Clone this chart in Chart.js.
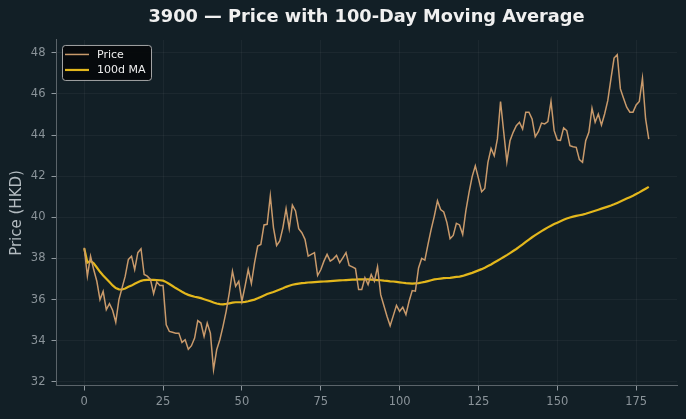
<!DOCTYPE html>
<html>
<head>
<meta charset="utf-8">
<script src="https://cdn.jsdelivr.net/npm/chart.js@4"></script>
<style>
  html, body { margin: 0; padding: 0; background: #121f26; }
  #wrap { width: 686px; height: 419px; }
</style>
</head>
<body>
<div id="wrap"><canvas id="myChart" width="686" height="419"></canvas></div>
<script>
// price, one value per trading day (day 0..179)
var price = [
  38.52, 37.14, 38.11, 37.46, 36.89, 36.00, 36.40, 35.51, 35.80, 35.48,
  34.90, 36.00, 36.57, 37.14, 37.95, 38.11, 37.46, 38.28, 38.47, 37.22,
  37.14, 36.98, 36.29, 36.85, 36.68, 36.68, 34.78, 34.45, 34.41, 34.37,
  34.37, 33.92, 34.05, 33.59, 33.76, 34.13, 34.98, 34.86, 34.21, 34.86,
  34.37, 32.60, 33.56, 34.05, 34.70, 35.43, 36.33, 37.38, 36.65, 36.89,
  35.92, 36.65, 37.46, 36.78, 37.79, 38.60, 38.68, 39.63, 39.66, 41.04,
  39.50, 38.63, 38.85, 39.50, 40.42, 39.45, 40.59, 40.31, 39.45, 39.25,
  38.93, 38.11, 38.20, 38.28, 37.17, 37.45, 37.87, 38.20, 37.87, 37.98,
  38.15, 37.79, 38.03, 38.28, 37.66, 37.59, 37.51, 36.49, 36.49, 37.06,
  36.73, 37.22, 36.89, 37.59, 36.24, 35.71, 35.19, 34.73, 35.22, 35.72,
  35.43, 35.63, 35.27, 35.92, 36.44, 36.41, 37.54, 38.00, 37.92, 38.68,
  39.41, 40.06, 40.80, 40.38, 40.26, 39.74, 38.96, 39.12, 39.71, 39.63,
  39.17, 40.31, 41.20, 41.98, 42.50, 41.89, 41.24, 41.40, 42.67, 43.35,
  42.99, 43.81, 45.63, 44.16, 42.70, 43.72, 44.13, 44.45, 44.62, 44.29,
  45.11, 45.11, 44.78, 43.92, 44.16, 44.58, 44.54, 44.65, 45.63, 44.21,
  43.76, 43.74, 44.35, 44.21, 43.48, 43.43, 43.40, 42.80, 42.67, 43.72,
  44.13, 45.30, 44.62, 45.02, 44.49, 45.02, 45.67, 46.73, 47.74, 47.90,
  46.24, 45.79, 45.35, 45.11, 45.11, 45.46, 45.63, 46.76, 44.78, 43.80
];

// 100-day moving average, also
var ma100 = [
  38.50, 37.80, 37.87, 37.76, 37.56, 37.35, 37.17, 37.01, 36.85, 36.69,
  36.56, 36.50, 36.49, 36.54, 36.62, 36.68, 36.77, 36.84, 36.91, 36.95,
  36.96, 36.96, 36.96, 36.95, 36.94, 36.92, 36.85, 36.76, 36.66, 36.56,
  36.47, 36.38, 36.30, 36.23, 36.18, 36.14, 36.11, 36.07, 36.02, 35.97,
  35.92, 35.86, 35.81, 35.78, 35.77, 35.79, 35.82, 35.85, 35.87, 35.87,
  35.87, 35.89, 35.92, 35.96, 36.00, 36.06, 36.13, 36.20, 36.27, 36.32,
  36.37, 36.43, 36.49, 36.55, 36.62, 36.67, 36.72, 36.75, 36.78, 36.80,
  36.81, 36.83, 36.84, 36.85, 36.86, 36.87, 36.88, 36.89, 36.90, 36.91,
  36.92, 36.93, 36.94, 36.95, 36.96, 36.97, 36.97, 36.98, 36.98, 36.98,
  36.98, 36.97, 36.96, 36.95, 36.94, 36.92, 36.91, 36.89, 36.88, 36.86,
  36.84, 36.82, 36.80, 36.79, 36.78, 36.79, 36.80, 36.83, 36.86, 36.90,
  36.94, 36.98, 37.00, 37.02, 37.04, 37.05, 37.06, 37.08, 37.10, 37.12,
  37.15, 37.20, 37.25, 37.30, 37.36, 37.42, 37.48, 37.55, 37.63, 37.71,
  37.80, 37.89, 37.98, 38.07, 38.16, 38.26, 38.36, 38.46, 38.57, 38.68,
  38.80, 38.92, 39.03, 39.13, 39.23, 39.33, 39.42, 39.51, 39.59, 39.67,
  39.74, 39.81, 39.88, 39.94, 39.99, 40.03, 40.07, 40.10, 40.13, 40.17,
  40.22, 40.27, 40.32, 40.37, 40.42, 40.47, 40.52, 40.57, 40.63, 40.70,
  40.77, 40.84, 40.91, 40.98, 41.05, 41.13, 41.21, 41.30, 41.39, 41.48
];

var days = price.map(function (v, i) { return i; });
var xTicks = [0, 25, 50, 75, 100, 125, 150, 175];
var yTicks = [32, 34, 36, 38, 40, 42, 44, 46, 48];

var bg = '#121f26';
var priceColor = '#c99a6b';
var maColor = '#e3b71c';

function pts(vals) {
  return vals.map(function (v, i) { return { x: days[i], y: v }; });
}

// plain background + matplotlib-like legend box in the top-left corner
var decor = {
  id: 'decor',
  beforeDraw: function (chart) {
    var c = chart.ctx;
    c.save();
    c.fillStyle = bg;
    c.fillRect(0, 0, chart.width, chart.height);
    c.restore();
  },
  afterDatasetsDraw: function (chart) {
    var c = chart.ctx, a = chart.chartArea;
    var x = a.left + 6, y = a.top + 5, w = 89, h = 35;
    c.save();
    c.beginPath();
    c.roundRect(x + 0.5, y + 0.5, w, h, 3);
    c.fillStyle = 'rgba(5,8,10,0.92)';
    c.fill();
    c.strokeStyle = 'rgba(200,200,200,0.8)';
    c.lineWidth = 1;
    c.stroke();
    c.font = '11px "DejaVu Sans"';
    c.textBaseline = 'middle';
    chart.data.datasets.forEach(function (ds, k) {
      var ly = y + 9.5 + k * 15.5;
      c.strokeStyle = ds.borderColor;
      c.lineWidth = ds.borderWidth;
      c.beginPath();
      c.moveTo(x + 3, ly);
      c.lineTo(x + 27, ly);
      c.stroke();
      c.fillStyle = '#eeeeee';
      c.fillText(ds.label, x + 35, ly + 0.5);
    });
    c.restore();
  }
};

var ctx = document.getElementById('myChart').getContext('2d');
var myChart = new Chart(ctx, {
  type: 'line',
  data: {
    datasets: [{
      label: 'Price',
      data: pts(price),
      borderColor: priceColor,
      borderWidth: 1.5,
      pointRadius: 0,
      tension: 0,
      fill: false
    }, {
      label: '100d MA',
      data: pts(ma100),
      borderColor: maColor,
      borderWidth: 2.2,
      pointRadius: 0,
      tension: 0,
      fill: false
    }]
  },
  options: {
    responsive: false,
    animation: false,
    layout: { padding: { left: 0, right: 9, top: 0, bottom: 0 } },
    plugins: {
      legend: { display: false },
      tooltip: { enabled: false },
      title: {
        display: true,
        fullSize: false,
        text: '3900 \u2014 Price with 100-Day Moving Average',
        color: '#f0f0f0',
        font: { family: '"DejaVu Sans"', size: 17.8, weight: 'bold', lineHeight: 1.2 },
        padding: { top: 7, bottom: 11.6 }
      }
    },
    scales: {
      x: {
        type: 'linear',
        min: -8.95,
        max: 187.95,
        afterFit: function (s) { s.height = 33; },
        afterBuildTicks: function (s) { s.ticks = xTicks.map(function (v) { return { value: v }; }); },
        grid: { color: 'rgba(255,255,255,0.045)', tickColor: '#8f989e', tickLength: 4.5, drawTicks: true },
        border: { display: true, color: '#5b646a', width: 1 },
        ticks: { color: '#8a9399', padding: 5, maxRotation: 0, font: { family: '"DejaVu Sans"', size: 11.5 } }
      },
      y: {
        min: 31.8,
        max: 48.62,
        afterFit: function (s) { s.width = 56; },
        afterBuildTicks: function (s) { s.ticks = yTicks.map(function (v) { return { value: v }; }); },
        grid: { color: 'rgba(255,255,255,0.045)', tickColor: '#8f989e', tickLength: 4.5, drawTicks: true },
        border: { display: true, color: '#5b646a', width: 1 },
        ticks: { color: '#8a9399', padding: 6, font: { family: '"DejaVu Sans"', size: 11.5 } },
        title: {
          display: true,
          text: 'Price (HKD)',
          color: '#b4bcc1',
          font: { family: '"DejaVu Sans"', size: 15 },
          padding: { top: 8, bottom: 0 }
        }
      }
    }
  },
  plugins: [decor]
});
</script>
</body>
</html>
